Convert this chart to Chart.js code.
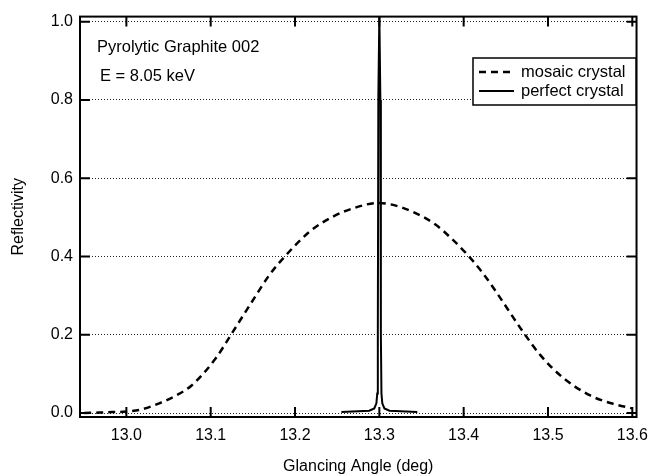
<!DOCTYPE html>
<html>
<head>
<meta charset="utf-8">
<script src="https://cdn.jsdelivr.net/npm/chart.js@4.4.1/dist/chart.umd.min.js"></script>
<style>
  body { margin: 0; background: #fff; }
  canvas { display: block; }
</style>
</head>
<body>
<canvas id="reflChart" width="657" height="476"></canvas>
<script>
// values
let mosaicX = [12.95, 12.975, 13.0, 13.015, 13.039, 13.059, 13.077, 13.106, 13.124, 13.147, 13.17, 13.19, 13.217, 13.245, 13.27, 13.299, 13.312, 13.34, 13.367, 13.386, 13.403, 13.423, 13.44, 13.468, 13.491, 13.518, 13.55, 13.575, 13.6];
let mosaicY = [0.0, 0.002, 0.004, 0.008, 0.025, 0.045, 0.07, 0.14, 0.2, 0.278, 0.354, 0.405, 0.463, 0.502, 0.524, 0.537, 0.534, 0.514, 0.481, 0.445, 0.408, 0.357, 0.305, 0.215, 0.148, 0.09, 0.045, 0.025, 0.012];

let perfectX = [13.255, 13.288, 13.294, 13.2965, 13.2975, 13.2982, 13.2988, 13.3, 13.3012, 13.3018, 13.3025, 13.3035, 13.306, 13.312, 13.345];
let perfectY = [0.003, 0.006, 0.012, 0.025, 0.05, 0.2, 0.8, 1.02, 0.8, 0.2, 0.05, 0.025, 0.012, 0.006, 0.003];

let xTicks = [13.0, 13.1, 13.2, 13.3, 13.4, 13.5, 13.6];
let yTicks = [0.0, 0.2, 0.4, 0.6, 0.8, 1.0];

let seriesNames = ["mosaic crystal", "perfect crystal"];
let notes = ["Pyrolytic Graphite 002", "E = 8.05 keV"];

const FONT = "'Liberation Sans', Arial, Helvetica, sans-serif";

function toPoints(xs, ys) {
  return xs.map((x, i) => ({ x: x, y: ys[i] }));
}

// frame, inward tick marks, legend box and notes
const decorations = {
  id: "decorations",
  afterDatasetsDraw(chart) {
    const ctx = chart.ctx;
    const a = chart.chartArea;
    const xs = chart.scales.x;
    const ys = chart.scales.y;
    ctx.save();
    ctx.strokeStyle = "#000";
    ctx.lineWidth = 2;
    ctx.setLineDash([]);
    ctx.strokeRect(a.left, a.top, a.right - a.left, a.bottom - a.top);

    const len = 10;
    ctx.beginPath();
    xTicks.forEach((v) => {
      const px = xs.getPixelForValue(v);
      ctx.moveTo(px, a.bottom);
      ctx.lineTo(px, a.bottom - len);
      ctx.moveTo(px, a.top);
      ctx.lineTo(px, a.top + len);
    });
    yTicks.forEach((v) => {
      const py = ys.getPixelForValue(v);
      ctx.moveTo(a.left, py);
      ctx.lineTo(a.left + len, py);
      ctx.moveTo(a.right, py);
      ctx.lineTo(a.right - len, py);
    });
    ctx.stroke();

    // notes
    ctx.fillStyle = "#000";
    ctx.font = "16.5px " + FONT;
    ctx.textBaseline = "middle";
    ctx.textAlign = "left";
    ctx.fillText(notes[0], 97, 47);
    ctx.fillText(notes[1], 100, 76);

    // legend
    const lx = 473, ly = 58, lw = 163, lh = 47;
    ctx.fillStyle = "#fff";
    ctx.fillRect(lx, ly, lw, lh);
    ctx.lineWidth = 1.5;
    ctx.strokeRect(lx, ly, lw, lh);
    const rows = [ly + 14, ly + 33];
    chart.data.datasets.forEach((ds, i) => {
      ctx.beginPath();
      ctx.lineWidth = ds.borderWidth;
      ctx.setLineDash(ds.borderDash || []);
      ctx.moveTo(lx + 6, rows[i]);
      ctx.lineTo(lx + 41, rows[i]);
      ctx.stroke();
      ctx.setLineDash([]);
      ctx.fillStyle = "#000";
      ctx.fillText(ds.label, lx + 48, rows[i]);
    });
    ctx.restore();
  },
};

const ctx = document.getElementById("reflChart").getContext("2d");
const reflChart = new Chart(ctx, {
  type: "scatter",
  data: {
    datasets: [
      {
        label: seriesNames[0],
        data: toPoints(mosaicX, mosaicY),
        showLine: true,
        borderColor: "#000",
        borderWidth: 2.5,
        borderDash: [7, 5],
        pointRadius: 0,
        cubicInterpolationMode: "monotone",
      },
      {
        label: seriesNames[1],
        data: toPoints(perfectX, perfectY),
        showLine: true,
        borderColor: "#000",
        borderWidth: 2,
        pointRadius: 0,
        tension: 0,
      },
    ],
  },
  options: {
    responsive: false,
    animation: false,
    layout: { padding: { top: 12, right: 15, left: 0, bottom: 0 } },
    plugins: {
      legend: { display: false },
      tooltip: { enabled: false },
    },
    scales: {
      x: {
        type: "linear",
        min: 12.945,
        max: 13.605,
        afterBuildTicks: (scale) => {
          scale.ticks = xTicks.map((v) => ({ value: v }));
        },
        afterFit: (scale) => {
          scale.height = 59;
        },
        ticks: {
          color: "#000",
          padding: 9,
          font: { family: FONT, size: 16 },
          callback: (v) => v.toFixed(1),
        },
        grid: { display: false, drawTicks: false },
        border: { display: false },
        title: {
          display: true,
          text: "Glancing Angle (deg)",
          color: "#000",
          font: { family: FONT, size: 16 },
          padding: { top: 0, bottom: 0 },
        },
      },
      y: {
        type: "linear",
        min: -0.01,
        max: 1.013,
        afterBuildTicks: (scale) => {
          scale.ticks = yTicks.map((v) => ({ value: v }));
        },
        afterFit: (scale) => {
          scale.width = 80;
        },
        ticks: {
          color: "#000",
          padding: 7,
          font: { family: FONT, size: 16 },
          callback: (v) => v.toFixed(1),
        },
        grid: {
          color: "#222",
          lineWidth: 1,
          drawTicks: false,
        },
        border: { display: false, dash: [1, 2] },
        title: {
          display: true,
          text: "Reflectivity",
          color: "#000",
          font: { family: FONT, size: 16 },
          padding: { top: 9, bottom: 0 },
        },
      },
    },
  },
  plugins: [decorations],
});
</script>
</body>
</html>
